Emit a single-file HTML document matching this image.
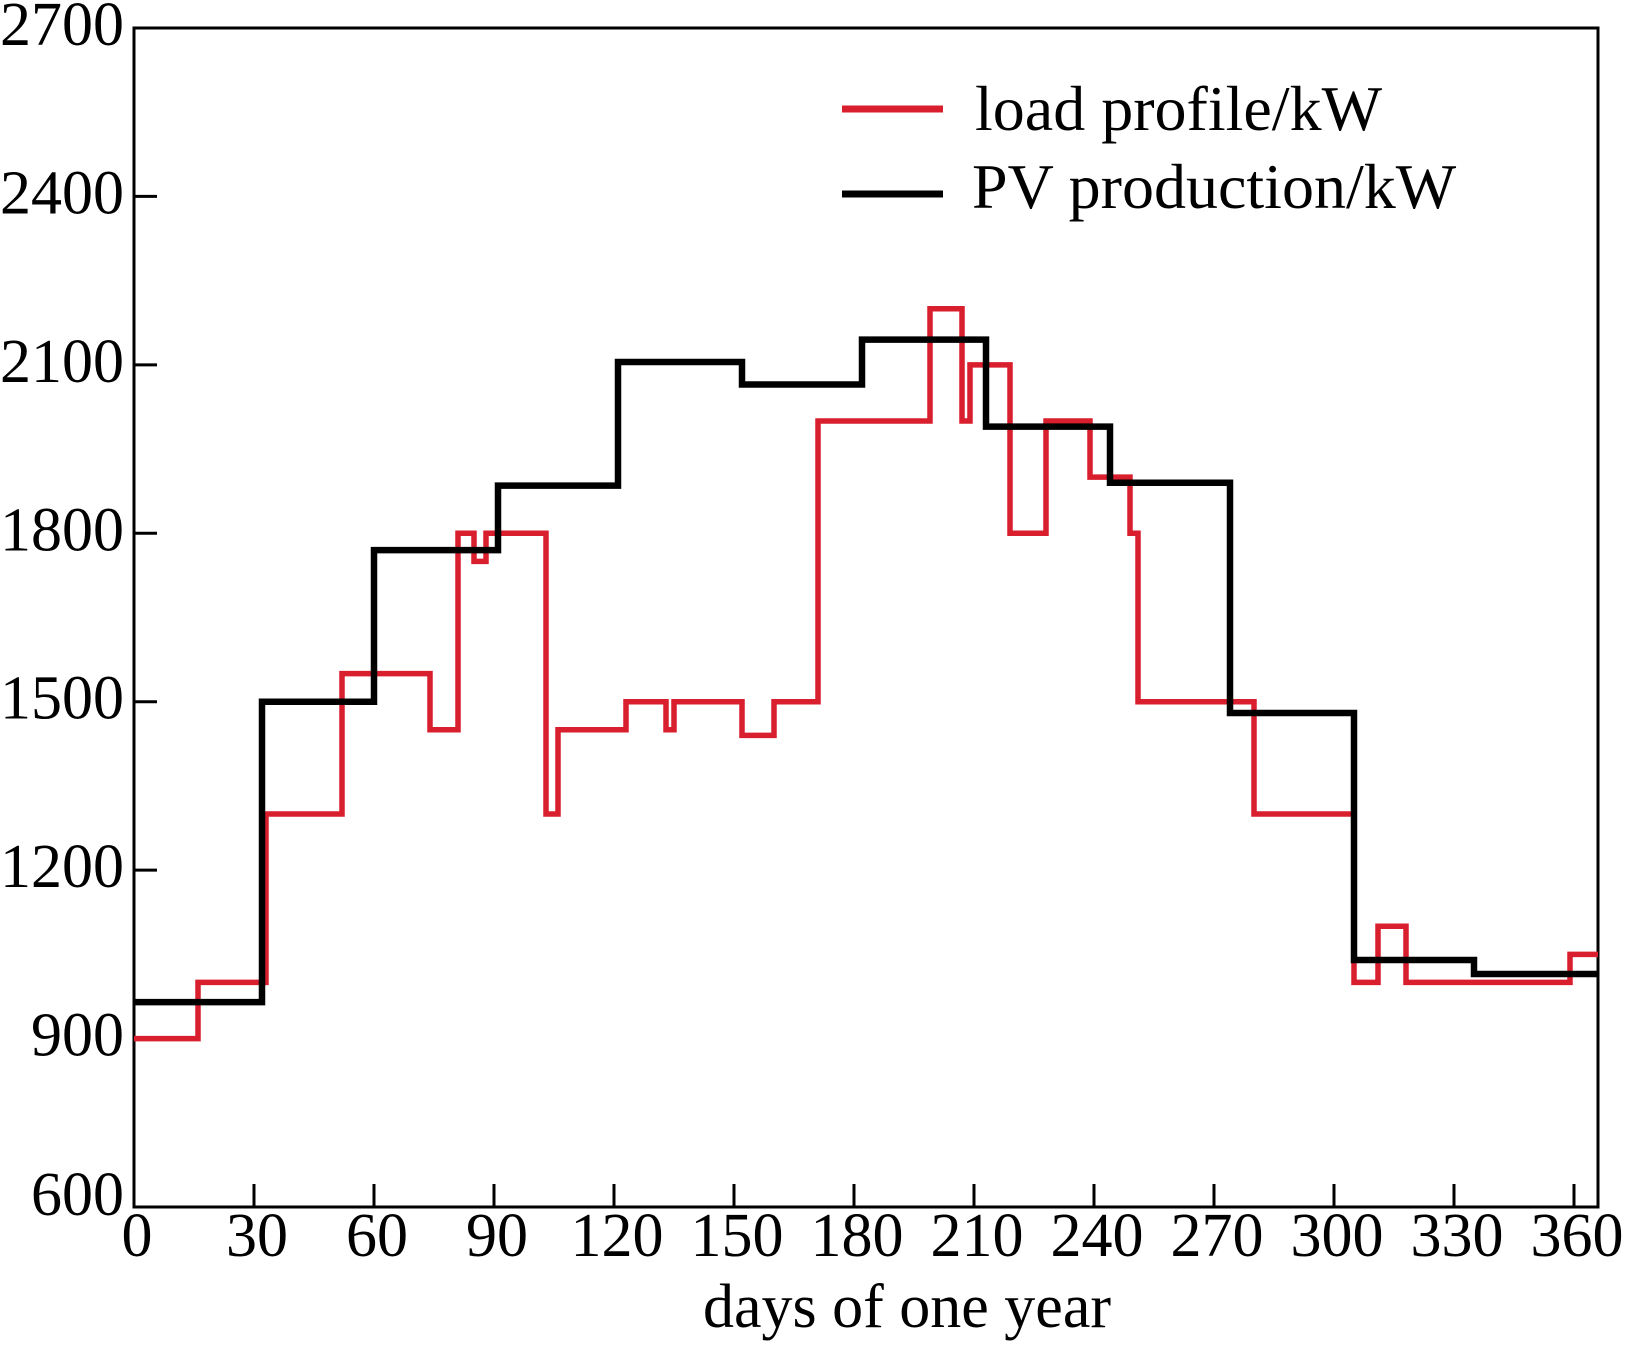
<!DOCTYPE html>
<html><head><meta charset="utf-8"><style>
html,body{margin:0;padding:0;background:#fff}
svg{display:block}
text{font-family:"Liberation Serif",serif;font-size:62px;fill:#000}
.lg{font-size:64px}
</style></head><body>
<svg id="chart" width="1625" height="1347" viewBox="0 0 1625 1347" xmlns="http://www.w3.org/2000/svg">
<g id="axes"></g><g id="series"></g>
<g>
<line x1="842" y1="109" x2="943" y2="109" stroke="#d91e2e" stroke-width="7"/>
<text class="lg" x="975" y="130">load profile/kW</text>
<line x1="842" y1="194" x2="943" y2="194" stroke="#000" stroke-width="7"/>
<text class="lg" x="972" y="208">PV production/kW</text>
</g>
<text x="907" y="1327" text-anchor="middle">days of one year</text>
</svg>
<script>
const xTicks=[0,30,60,90,120,150,180,210,240,270,300,330,360];
const yTicks=[600,900,1200,1500,1800,2100,2400,2700];
const loadBreaks=[0,16,33,52,74,81,85,88,103,106,123,133,135,152,160,171,199,207,209,219,228,239,249,251,280,305,311,318,359,366];
const loadValues=[900,1000,1300,1550,1450,1800,1750,1800,1300,1450,1500,1450,1500,1440,1500,2000,2200,2000,2100,1800,2000,1900,1800,1500,1300,1000,1100,1000,1050];
const pvBreaks=[0,32,60,91,121,152,182,213,244,274,305,335,366];
const pvValues=[965,1500,1770,1885,2105,2065,2145,1990,1890,1480,1040,1015];
const X0=134,X1=1598,Y0=1207,Y1=28;
const xs=d=>X0+(d-0)*(X1-X0)/366;
const ys=v=>Y0-(v-600)*(Y0-Y1)/2100;
const NS="http://www.w3.org/2000/svg";
const axes=document.getElementById('axes'),series=document.getElementById('series');
function mk(t,a,p){const e=document.createElementNS(NS,t);for(const k in a)e.setAttribute(k,a[k]);p.appendChild(e);return e;}
const frame=mk('rect',{x:X0,y:Y1,width:X1-X0,height:Y0-Y1,fill:'none',stroke:'#000','stroke-width':3},axes);


xTicks.forEach(t=>{
 const l=mk('line',{x1:xs(t),x2:xs(t),y1:Y0,y2:Y0-23,stroke:'#000','stroke-width':3},axes);
 
 
 const tx=mk('text',{x:xs(t)+3,y:1256,'text-anchor':'middle'},axes);tx.textContent=t;
 
 
});
yTicks.forEach(t=>{
 const l=mk('line',{x1:X0,x2:X0+23,y1:ys(t),y2:ys(t),stroke:'#000','stroke-width':3},axes);
 
 
 const tx=mk('text',{x:124,y:ys(t)+(t===600?8:17),'text-anchor':'end'},axes);tx.textContent=t;
 
 
});
function step(br,vals){let d='';for(let i=0;i<vals.length;i++){d+=(i?'L':'M')+xs(br[i])+','+ys(vals[i])+'L'+xs(br[i+1])+','+ys(vals[i]);}return d;}
const pL=mk('path',{d:step(loadBreaks,loadValues),fill:'none',stroke:'#d91e2e','stroke-width':5.5},series);


const pP=mk('path',{d:step(pvBreaks,pvValues),fill:'none',stroke:'#000','stroke-width':6.5},series);


</script>
</body></html>
